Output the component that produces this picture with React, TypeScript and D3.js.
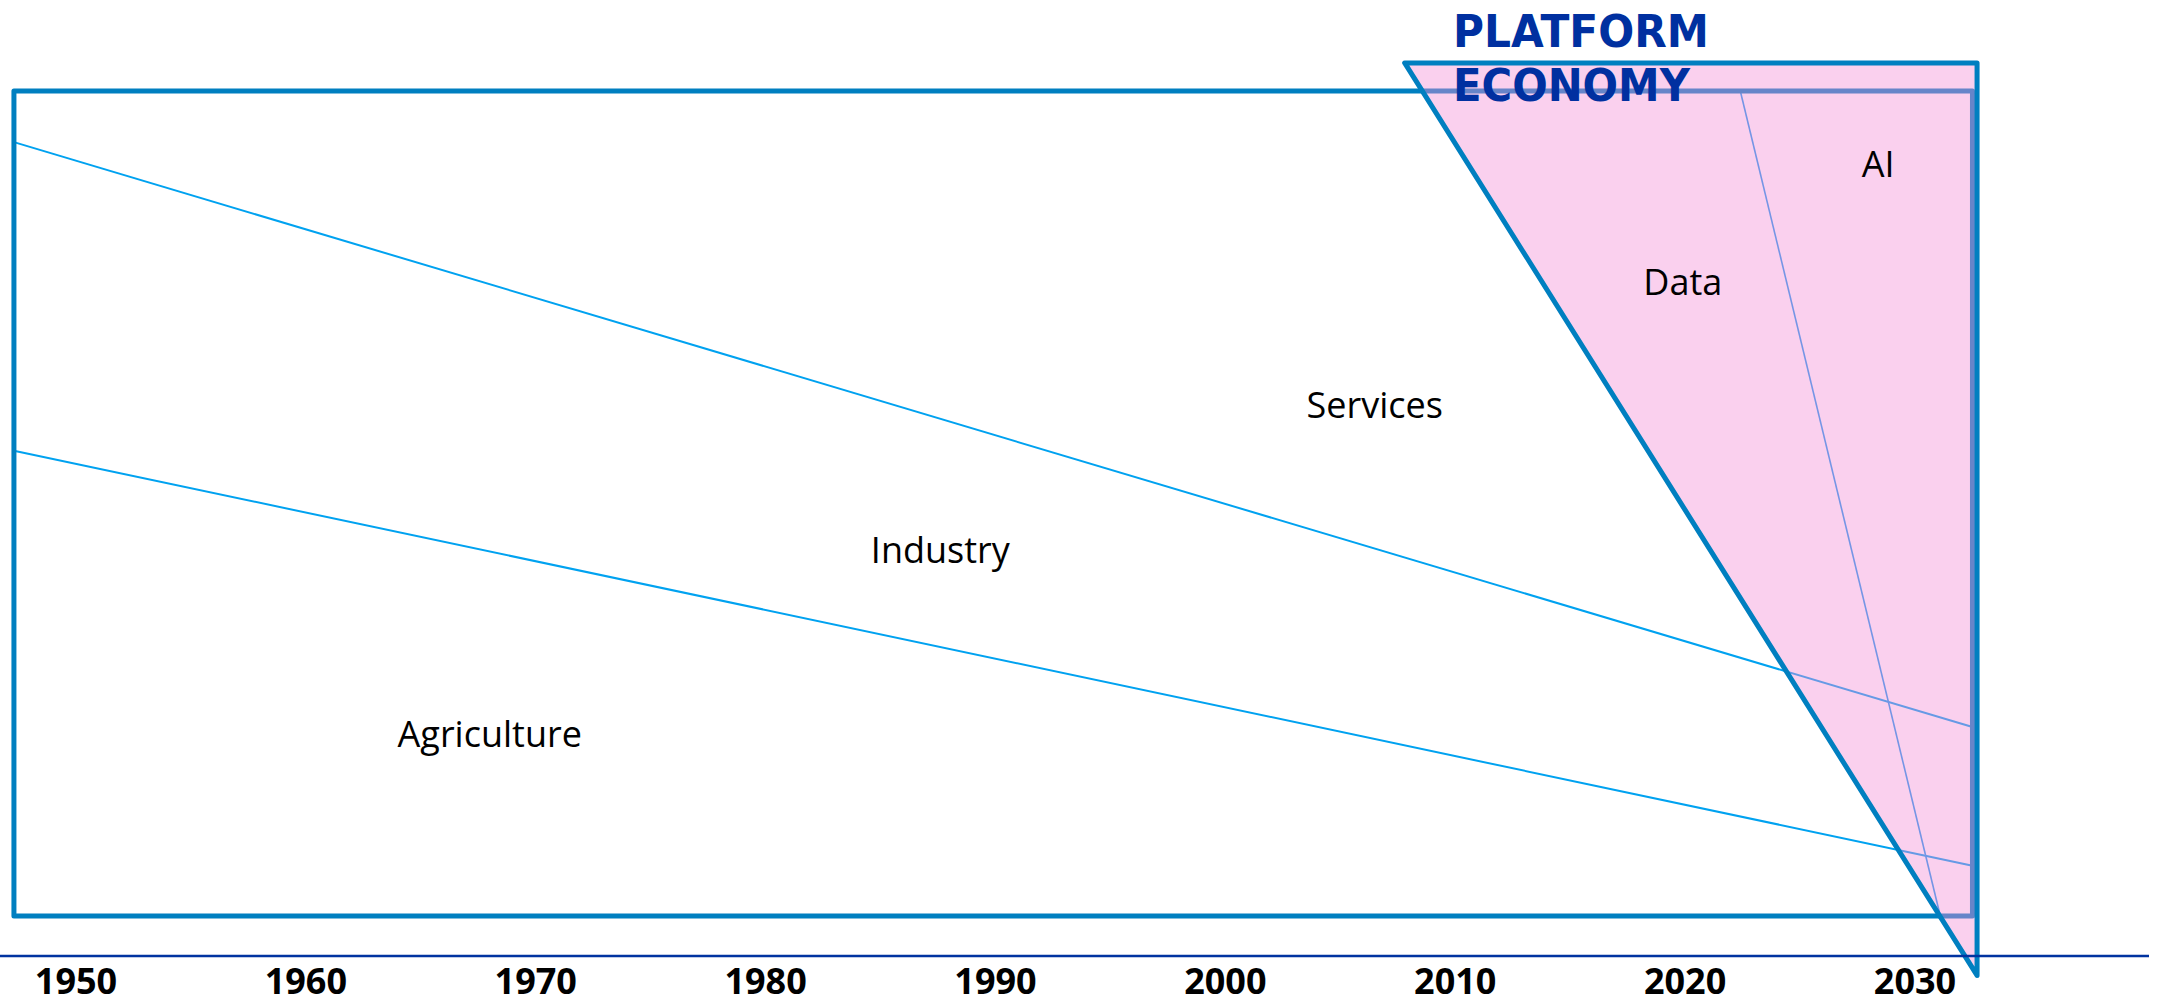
import React from 'react'
import * as d3 from "d3";

// x axis tick years
const tickYears = [1950, 1960, 1970, 1980, 1990, 2000, 2010, 2020, 2030]

// sector boundaries: [year, share of economy]
const servicesLine: [number, number][] = [[1947.3, 93.8], [2032.5, 22.9]]
const industryLine: [number, number][] = [[1947.3, 56.4], [2032.5, 6.1]]
const dataAiLine: [number, number][] = [[2022.4, 100], [2031.1, 0]]

// whole economy frame
const frameYears = [1947.3, 2032.5]
const frameShare = [0, 100]

// platform economy wedge
const platformWedge: [number, number][] = [[2007.8, 103.4], [2032.7, 103.4], [2032.7, -7.2]]

// sector labels
const sectorNames = ["Agriculture", "Industry", "Services", "Data", "AI"]
const sectorYears = [1968.0, 1987.6, 2006.5, 2019.9, 2028.4]
const sectorShares = [20.5, 42.8, 60.4, 75.3, 89.6]

const titleLines = ["PLATFORM", "ECONOMY"]
const titleYear = 2009.9
const titleShares = [105.3, 98.8]

const width = 2159
const height = 1004

export default function App() {
  // scales
  const xScale = d3.scaleLinear().domain([1950, 2030]).range([76, 1915])
  const yScale = d3.scaleLinear().domain([0, 100]).range([916, 91])

  const line = d3.line<[number, number]>()
    .x(d => xScale(d[0]))
    .y(d => yScale(d[1]))

  const wedgePath = line(platformWedge) + "Z"

  const fx0 = xScale(frameYears[0])
  const fx1 = xScale(frameYears[1])
  const fy0 = yScale(frameShare[1])
  const fy1 = yScale(frameShare[0])

  const baselineY = 956
  const labelFont = "'Open Sans', sans-serif"

  return (
    <svg
      width={width}
      height={height}
      style={{ position: 'absolute', left: 0, top: 0, display: 'block', background: '#fff' }}
    >
      {/* sector boundary lines */}
      <path d={line(servicesLine) ?? ""} fill="none" stroke="#00a2f0" strokeWidth={2} />
      <path d={line(industryLine) ?? ""} fill="none" stroke="#00a2f0" strokeWidth={2} />
      <path d={line(dataAiLine) ?? ""} fill="none" stroke="#1a9af0" strokeWidth={1.6} />

      {/* frame */}
      <rect x={fx0} y={fy0} width={fx1 - fx0} height={fy1 - fy0}
        fill="none" stroke="#007fc0" strokeWidth={5} strokeLinejoin="round" />

      {/* platform wedge */}
      <path d={wedgePath} fill="#f38fd6" fillOpacity={0.42} stroke="none" />
      <path d={wedgePath} fill="none" stroke="#007fc0" strokeWidth={5} strokeLinejoin="round" />

      {/* baseline */}
      <line x1={0} x2={width - 10} y1={baselineY} y2={baselineY} stroke="#0033a0" strokeWidth={2.7} />

      {/* tick labels */}
      {tickYears.map(y => (
        <text key={y} x={xScale(y)} y={994} textAnchor="middle"
          fontFamily={labelFont} fontWeight="bold" fontSize={36} fill="#000">
          {y}
        </text>
      ))}

      {/* sector labels */}
      {sectorNames.map((name, i) => (
        <text key={name} x={xScale(sectorYears[i])} y={yScale(sectorShares[i])} textAnchor="middle"
          fontFamily={labelFont} fontSize={36} fill="#000">
          {name}
        </text>
      ))}

      {/* title */}
      {titleLines.map((t, i) => (
        <text key={t} x={xScale(titleYear)} y={yScale(titleShares[i])}
          fontFamily="'DejaVu Sans', sans-serif" fontWeight="bold" fontSize={45} fill="#0030a0"
          textLength={i === 0 ? 256 : 237} lengthAdjust="spacingAndGlyphs">
          {t}
        </text>
      ))}
    </svg>
  )
}
